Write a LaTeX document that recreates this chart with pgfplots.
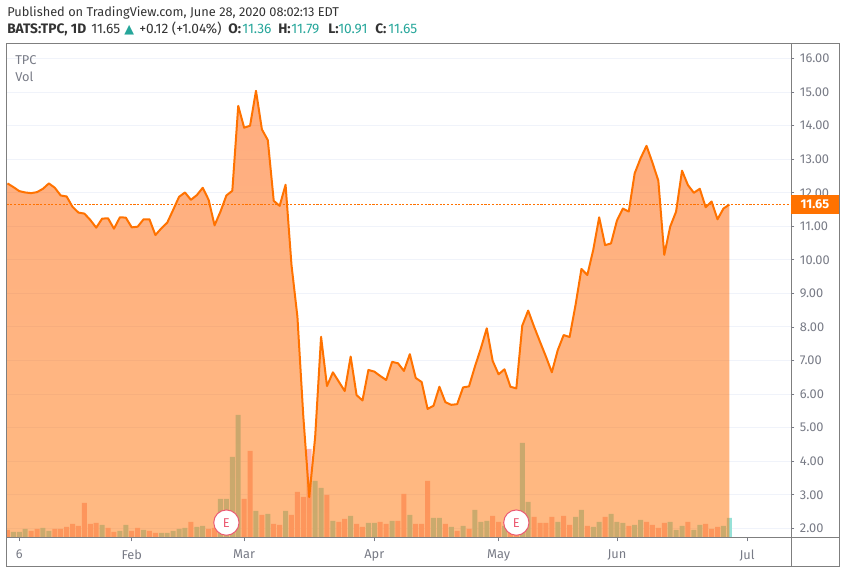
\documentclass[border=0pt]{standalone}
\usepackage{pgfplots}
\usepackage{pgfplotstable}
\usepackage{fontspec}
\pgfplotsset{compat=1.18}
\setmainfont{Fira Sans}
\newfontfamily\djv{DejaVu Sans}
\definecolor{tvgray}{HTML}{787B86}
\definecolor{tvframe}{HTML}{7F7F7F}
\definecolor{tvgrid}{HTML}{F0F3FA}
\definecolor{tvorange}{HTML}{FF7200}
\definecolor{tvteal}{HTML}{26A69A}
\definecolor{volup}{RGB}{150,225,215}
\definecolor{voldn}{RGB}{252,185,180}
\definecolor{evred}{HTML}{EC5A72}
\definecolor{fillt}{RGB}{255,91,0}
\definecolor{fillb}{RGB}{255,117,5}
\newcommand{\fs}{\fontsize{9.6}{11}\selectfont}
\newcommand{\fr}{\fontsize{10.3}{11}\selectfont}
\pgfplotstableread{
i c
0 12.28
1 12.17
2 12.05
3 12.01
4 11.99
5 12.02
6 12.12
7 12.28
8 12.15
9 11.92
10 11.89
11 11.58
12 11.41
13 11.38
14 11.19
15 10.96
16 11.23
17 11.24
18 10.93
19 11.27
20 11.26
21 10.97
22 10.99
23 11.21
24 11.21
25 10.74
26 10.94
27 11.11
28 11.49
29 11.88
30 12.01
31 11.79
32 11.93
33 12.15
34 11.79
35 11.03
36 11.44
37 11.92
38 12.06
39 14.59
40 13.94
41 14.00
42 15.04
43 13.89
44 13.57
45 11.76
46 11.61
47 12.24
48 9.85
49 8.31
50 5.33
51 2.93
52 4.72
53 7.71
54 6.24
55 6.65
56 6.37
57 6.09
58 7.12
59 5.97
60 5.81
61 6.72
62 6.67
63 6.54
64 6.42
65 6.96
66 6.92
67 6.69
68 7.19
69 6.48
70 6.36
71 5.56
72 5.65
73 6.22
74 5.76
75 5.68
76 5.70
77 6.20
78 6.23
79 6.82
80 7.36
81 7.96
82 6.99
83 6.59
84 6.74
85 6.22
86 6.17
87 8.04
88 8.49
89 8.01
90 7.56
91 7.12
92 6.65
93 7.31
94 7.76
95 7.70
96 8.65
97 9.73
98 9.55
99 10.30
100 11.27
101 10.44
102 10.49
103 11.17
104 11.53
105 11.44
106 12.58
107 13.03
108 13.40
109 12.90
110 12.36
111 10.15
112 10.99
113 11.44
114 12.66
115 12.23
116 12.00
117 12.12
118 11.57
119 11.74
120 11.21
121 11.53
122 11.65
}\price
\pgfplotsset{
  base/.style={
    scale only axis, width=588.375pt, height=370.875pt,
    at={(4.875pt,27pt)}, anchor=south west,
    xmin=-0.164, xmax=132.42,
  },
}
\begin{document}
\begin{tikzpicture}
\useasboundingbox (0,0) rectangle (634.5pt,430.5pt);
% price scale and grid
\begin{axis}[base, ymin=1.711, ymax=16.45,
  axis line style={draw=none},
  ytick={2,...,16}, ymajorgrids, grid style={tvgrid, line width=0.75pt},
  xtick={2,21,40,62,83,103,125}, xticklabels={6,Feb,Mar,Apr,May,Jun,Jul},
  xtick pos=bottom, ytick pos=right, yticklabel pos=right,
  tick align=outside, major tick length=2.6pt,
  tick style={tvgray, line width=0.6pt},
  tick label style={font=\fs, text=tvgray},
  /pgf/number format/fixed, /pgf/number format/fixed zerofill,
  /pgf/number format/precision=2, /pgf/number format/assume math mode=true,
  yticklabel style={xshift=0.6pt},
  xticklabel style={yshift=-3pt},
]
\end{axis}
% volume
\begin{axis}[base, ymin=0, ymax=494.5, hide axis, ybar, bar width=3.75pt, bar shift=0pt]
\addplot[draw=none, fill=voldn] coordinates {
(0,8)(4,7)(5,9)(8,9)(9,9)(10,11)(11,14)(12,12)(13,35)(14,14)(15,15)(17,10)(18,6)(21,7)(22,10)(24,7)(25,5)(31,16)(34,9)(35,10)(40,39)(41,87)(43,23)(45,14)(46,13)(48,23)(49,46)(50,41)(51,89)(54,43)(56,16)(57,19)(59,14)(60,11)(63,16)(64,14)(66,17)(67,44)(69,14)(70,14)(71,57)(74,14)(76,7)(78,9)(82,22)(83,16)(85,13)(86,11)(89,21)(90,15)(91,15)(92,21)(94,22)(95,13)(98,12)(101,21)(105,12)(108,16)(109,13)(110,10)(111,15)(115,16)(118,14)(119,9)(120,11)};
\addplot[draw=none, fill=volup] coordinates {
(1,6)(2,6)(3,9)(6,10)(7,7)(16,13)(19,7)(20,13)(23,8)(26,5)(27,5)(28,7)(29,9)(30,10)(32,11)(33,12)(36,39)(37,39)(38,81)(39,123)(42,27)(44,24)(47,27)(52,57)(53,50)(55,17)(58,22)(61,15)(62,15)(65,17)(68,23)(72,20)(73,20)(75,11)(77,12)(79,28)(80,16)(81,17)(84,12)(87,95)(88,36)(93,16)(96,21)(97,28)(99,11)(100,16)(102,24)(103,16)(104,15)(106,13)(107,18)(112,16)(113,8)(114,12)(116,8)(117,13)(121,12)(122,20)};
\end{axis}
% price
\begin{axis}[base, ymin=1.711, ymax=16.45, hide axis]
\addplot[draw=none, top color=fillt, bottom color=fillb, fill opacity=0.5] table[x=i,y=c] {\price} \closedcycle;
\addplot[tvorange, line width=1.5pt, line join=round] table[x=i,y=c] {\price};
\addplot[tvorange, line width=0.75pt, dash pattern=on 1.6pt off 1.2pt] coordinates {(-0.164,11.65)(132.42,11.65)};
\addplot[only marks, mark=*, mark size=9.5pt,
  mark options={fill=white, draw=evred, line width=0.75pt},
  nodes near coords={E},
  every node near coord/.style={anchor=center, text=evred, font=\fs}]
  coordinates {(37,2.17)(86,2.17)};
\coordinate (pl) at (axis cs:132.42,11.65);
\end{axis}
% frame
\draw[tvframe, line width=0.75pt] (4.875pt,5.25pt) rectangle (629.4pt,398pt);
\draw[tvframe, line width=0.75pt] (593.25pt,5.25pt) -- (593.25pt,398pt);
\draw[tvframe, line width=0.75pt] (4.875pt,27pt) -- (629.4pt,27pt);
% last price label
\node[fill=tvorange, text=white, anchor=west, inner sep=0pt, minimum width=35.5pt, minimum height=14.4pt,
  font=\fs\bfseries] at (pl) {11.65};
% texts
\tikzset{hd/.style={anchor=base west, inner sep=0pt, text=black!80, font=\fs},
         hr/.style={anchor=base west, inner sep=0pt, text=black!80, font=\fr}}
\node[hd] at (5.25pt,418.1pt) {Published on TradingView.com, June 28, 2020 08:02:13 EDT};
\node[hr] at (5.25pt,405pt) {\textbf{BATS:TPC, 1D}};
\node[hr] at (68.25pt,405pt) {11.65};
\node[hr, text=tvteal, font=\djv\fontsize{9.5}{11}\selectfont] at (93pt,405pt) {▲};
\node[hr] at (104.25pt,405pt) {+0.12 (+1.04\%)};
\node[hr] at (171pt,405pt) {\textbf{O:}};
\node[hr, text=tvteal] at (181.5pt,405pt) {11.36};
\node[hr] at (208.5pt,405pt) {\textbf{H:}};
\node[hr, text=tvteal] at (218.25pt,405pt) {11.79};
\node[hr] at (246pt,405pt) {\textbf{L:}};
\node[hr, text=tvteal] at (253.5pt,405pt) {10.91};
\node[hr] at (281.25pt,405pt) {\textbf{C:}};
\node[hr, text=tvteal] at (291pt,405pt) {11.65};
\node[hd, text=tvgray] at (11.25pt,381.75pt) {TPC};
\node[hd, text=tvgray] at (11.25pt,369pt) {Vol};
\end{tikzpicture}
\end{document}
